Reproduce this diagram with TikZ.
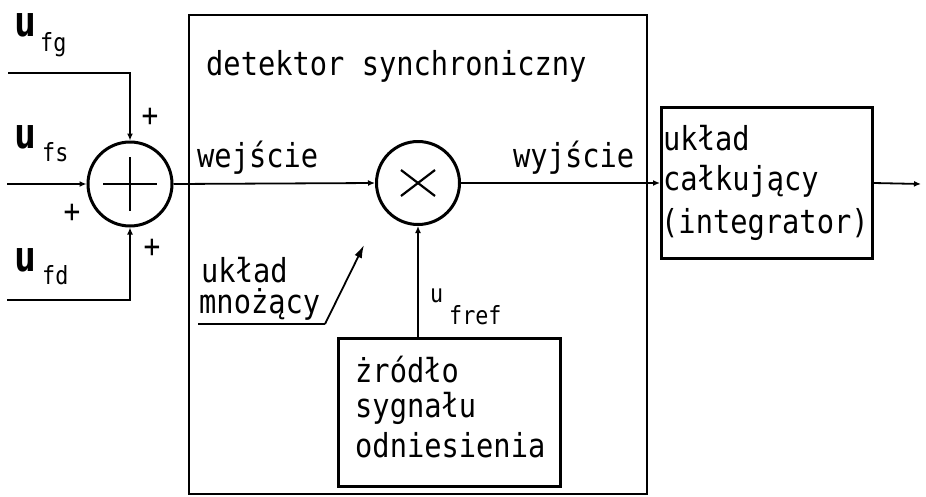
\documentclass[tikz,border=0pt]{standalone}
\usepackage{fontspec}
\newfontfamily\tech[FakeStretch=0.87]{DejaVu Sans Mono}
\usetikzlibrary{arrows.meta,calc}

\begin{document}
\begin{tikzpicture}[x=1pt,y=-1pt,
  txt/.style={inner sep=0pt,anchor=base west,font=\tech\fontsize{33}{40}\selectfont},
  big/.style={inner sep=0pt,anchor=base west,font=\tech\bfseries\fontsize{42}{48}\selectfont},
  sub/.style={inner sep=0pt,anchor=base west,font=\tech\fontsize{25}{30}\selectfont},
  sign/.style={inner sep=0pt,font=\tech\fontsize{32}{36}\selectfont},
  wire/.style={line width=1.8pt},
  tip/.style={-{Latex[length=7pt,width=6pt]}},
  junction/.style={circle,draw,line width=3pt,minimum size=84pt,inner sep=0pt},
  blockbox/.style={draw,line width=3pt,inner sep=0pt,anchor=north west},
]
\useasboundingbox (0,0) rectangle (926,496);

% outer frame of the synchronous detector
\node[draw,line width=1.6pt,inner sep=0pt,anchor=north west,
      minimum width=458pt,minimum height=479pt] (det) at (188,14) {};

% summing junction and multiplier
\node[junction] (s) at (130,184) {};
\draw[line width=2.8pt] ($(s)+(-27,0)$) -- ($(s)+(27,0)$)
                        ($(s)+(0,-27)$) -- ($(s)+(0,27)$);
\node[junction,minimum size=83pt] (m) at (418,183) {};
\draw[line width=2.2pt] ($(m)+(-17,-13)$) -- ($(m)+(17,13)$)
                        ($(m)+(-17,13)$) -- ($(m)+(17,-13)$);

% blocks
\node[blockbox,minimum width=211pt,minimum height=151pt] (int) at (660,106) {};
\node[blockbox,minimum width=222pt,minimum height=148pt] (ref) at (337,337) {};

% input signals
\coordinate (g0) at (8,73);
\coordinate (g1) at (130,73);
\coordinate (f0) at (7,184);
\coordinate (d0) at (7,300);
\coordinate (d1) at (130,300);
\coordinate (out) at (921,184);
\draw[wire,tip] (g0) -- (g1) -- (s.north);
\draw[wire,tip] (f0) -- (s.west);
\draw[wire,tip] (d0) -- (d1) -- (s.south);
\draw[wire,tip] (s.east) -- (m.west);
\draw[wire,tip] (m.east) -- (int.west |- m.east);
\draw[wire,tip] (int.east |- m.east) -- (out);
\draw[wire,tip] (ref.north -| m.south) -- (m.south);

% signal labels
\node[big] (ug) at (14,36) {u};
\node[sub] (ug2) at (40,51) {fg};
\node[big] (us) at (14,148) {u};
\node[sub] (us2) at (42,161) {fs};
\node[big] (ud) at (14,271) {u};
\node[sub] (ud2) at (42,284) {fd};
\node[sign] (p1) at (150,117) {+};
\node[sign] (p2) at (72,213) {+};
\node[sign] (p3) at (152,248) {+};
\node[sub] (ur) at (430,302) {u};
\node[sub] (ur2) at (449,324) {fref};

% texts
\node[txt] (t1) at (206,75) {detektor synchroniczny};
\node[txt] (t2) at (197,167) {wejście};
\node[txt] (t3) at (513,167) {wyjście};
\node[txt] (t4) at (201,282) {układ};
\node[txt] (t5) at (199,313) {mnożący};
\node[txt] (t6) at (663,150) {układ};
\node[txt] (t7) at (663,190) {całkujący};
\node[txt] (t8) at (661,233) {(integrator)};
\node[txt] (t9) at (355,382) {żródło};
\node[txt] (t10) at (355,417) {sygnału};
\node[txt] (t11) at (355,457) {odniesienia};

% pointer to the multiplier
\coordinate (u0) at (198,324);
\coordinate (u1) at (325,324);
\coordinate (mp) at (364,245);
\draw[wire] (u0) -- (u1);
\draw[wire,-{Latex[length=13pt,width=8pt]}] (u1) -- (mp);
\end{tikzpicture}
\end{document}
